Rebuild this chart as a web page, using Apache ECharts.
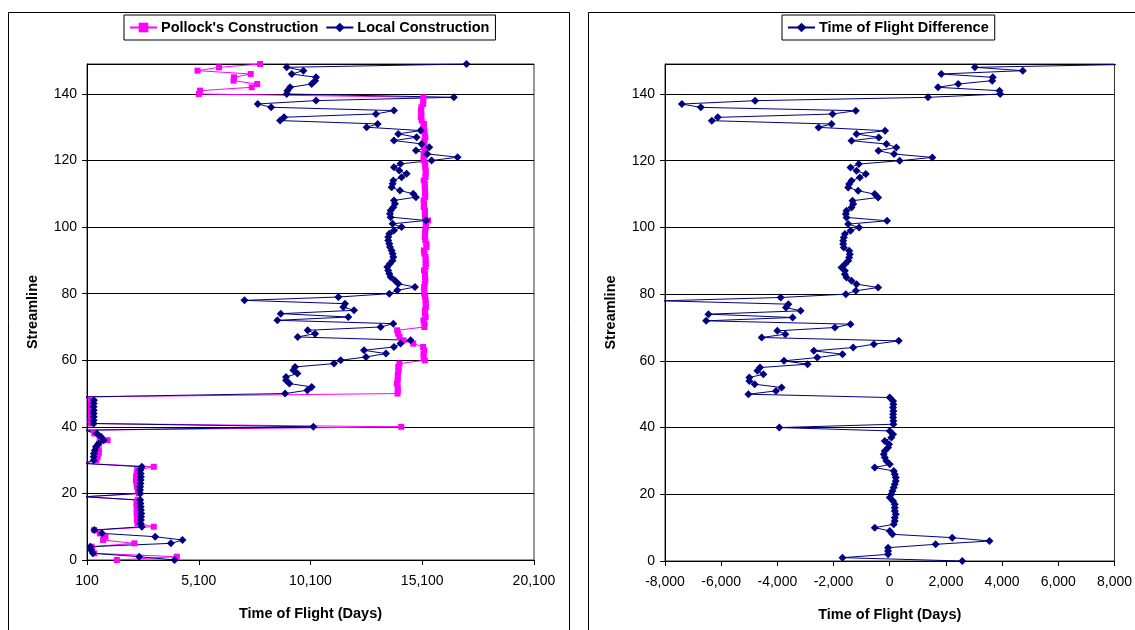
<!DOCTYPE html>
<html lang="en">
<head>
<meta charset="UTF-8">
<title>Time of Flight</title>
<script src="https://cdn.jsdelivr.net/npm/echarts@6/dist/echarts.min.js"></script>
<style>
    html, body { margin: 0; background: #fff; }
    #main { width: 1135px; height: 630px; }
</style>
</head>
<body>
<div id="main"></div>
<script>
// time of flight (days) per streamline, index = streamline number (0..149)
var pollock = [
    1435, 4118, 426, 336, 306, 2218, 822, 926, 674, 426,
    3089, 2358, 2332, 2342, 2317, 2332, 2322, 2312, 2362, 0,
    2421, 2375, 2338, 2312, 2287, 2297, 2322, 2348, 3089, 0,
    518, 578, 623, 628, 559, 644, 1022, 665, 427, 0,
    14160, 270, 266, 282, 278, 270, 278, 270, 292, 0,
    13994, 14009, 14002, 13963, 14003, 14003, 14012, 14046, 14027, 14076,
    15215, 15163, 15157, 15193, 15136, 14699, 14258, 14086, 14021, 13977,
    15192, 15201, 15155, 15250, 15221, 15219, 15263, 15255, 15250, 15229,
    15188, 15191, 15186, 15211, 15240, 15224, 15223, 15178, 15253, 15253,
    15254, 15248, 15195, 15173, 15289, 15283, 15238, 15214, 15223, 15231,
    15265, 15254, 15359, 15224, 15218, 15224, 15166, 15180, 15160, 15231,
    15231, 15227, 15209, 15218, 15166, 15242, 15252, 15256, 15231, 15232,
    15162, 15164, 15169, 15220, 15176, 15188, 15196, 15238, 15211, 15191,
    15146, 15176, 15073, 15038, 15065, 15042, 15062, 15141, 15143, 15153,
    5106, 5159, 7469, 7715, 6656, 6678, 7425, 5045, 6006, 7845
];
var local = [
    4016, 2437, 367, 277, 247, 3852, 4374, 3152, 769, 426,
    2556, 2500, 2510, 2520, 2530, 2510, 2500, 2490, 2480, 0,
    2480, 2470, 2480, 2490, 2500, 2510, 2500, 2490, 2556, 0,
    400, 400, 410, 450, 500, 620, 844, 724, 545, 0,
    10229, 400, 396, 400, 396, 400, 396, 400, 410, 0,
    8962, 9960, 10154, 9156, 9007, 9007, 9513, 9334, 9409, 11152,
    11450, 12582, 13476, 12493, 13834, 14131, 14578, 9528, 10303, 9975,
    13238, 13804, 8619, 11793, 8768, 12046, 11569, 11644, 7145, 11346,
    13625, 13983, 14772, 14027, 13878, 13685, 13625, 13580, 13536, 13655,
    13774, 13804, 13774, 13729, 13655, 13625, 13580, 13580, 13625, 13834,
    14176, 13774, 15264, 13685, 13655, 13685, 13804, 13878, 13834, 14817,
    14698, 14102, 13729, 13774, 13804, 14176, 14400, 14072, 13834, 14131,
    15517, 16679, 15323, 14817, 15413, 15070, 13834, 14847, 14027, 15025,
    12612, 13104, 8739, 8917, 13029, 13834, 8337, 7741, 10348, 16515,
    9037, 9066, 9186, 10154, 10303, 10348, 9260, 9781, 9037, 17081
];
var difference = [
    2581, -1681, -59, -59, -59, 1634, 3552, 2226, 95, 0,
    -533, 142, 178, 178, 213, 178, 178, 178, 118, 0,
    59, 95, 142, 178, 213, 213, 178, 142, -533, 0,
    -118, -178, -213, -178, -59, -24, -178, 59, 118, 0,
    -3931, 130, 130, 118, 118, 130, 118, 130, 118, 0,
    -5032, -4049, -3848, -4807, -4996, -4996, -4499, -4712, -4618, -2924,
    -3765, -2581, -1681, -2700, -1302, -568, 320, -4558, -3718, -4002,
    -1954, -1397, -6536, -3457, -6453, -3173, -3694, -3611, -8105, -3883,
    -1563, -1208, -414, -1184, -1362, -1539, -1598, -1598, -1717, -1598,
    -1480, -1444, -1421, -1444, -1634, -1658, -1658, -1634, -1598, -1397,
    -1089, -1480, -95, -1539, -1563, -1539, -1362, -1302, -1326, -414,
    -533, -1125, -1480, -1444, -1362, -1066, -852, -1184, -1397, -1101,
    355, 1515, 154, -403, 237, -118, -1362, -391, -1184, -166,
    -2534, -2072, -6334, -6121, -2036, -1208, -6725, -7400, -4795, 1362,
    3931, 3907, 1717, 2439, 3647, 3670, 1835, 4736, 3031, 9236
];
var leftRange = [100, 20100];
var rightRange = [-8000, 8000];
var streamRange = [0, 149];

// [x, streamline] pairs
function pairs(arr) {
    return arr.map(function (v, i) { return [v, i]; });
}

var FONT = 'Liberation Sans, Arial, sans-serif';
var NAVY = '#000080';
var PINK = '#ff00ff';

function xAxisFor(gridIndex, range, step) {
    return {
        type: 'value',
        gridIndex: gridIndex,
        min: range[0],
        max: range[1],
        interval: step,
        name: 'Time of Flight (Days)',
        nameLocation: 'middle',
        nameGap: 46,
        nameTextStyle: { fontFamily: FONT, fontSize: 14.5, fontWeight: 'bold', color: '#000' },
        axisLine: { onZero: false, lineStyle: { color: '#000' } },
        axisTick: { length: 5, lineStyle: { color: '#000' } },
        axisLabel: {
            margin: 14, fontFamily: FONT, fontSize: 14, color: '#000',
            formatter: function (v) { return v.toLocaleString('en-US'); }
        },
        splitLine: { show: false }
    };
}

function yAxisFor(gridIndex) {
    return {
        type: 'value',
        gridIndex: gridIndex,
        min: streamRange[0],
        max: streamRange[1],
        interval: 20,
        name: 'Streamline',
        nameLocation: 'middle',
        nameGap: 47,
        nameTextStyle: { fontFamily: FONT, fontSize: 14.5, fontWeight: 'bold', color: '#000' },
        axisLine: { onZero: false, lineStyle: { color: '#000' } },
        axisTick: { length: 5, lineStyle: { color: '#000' } },
        axisLabel: { margin: 10, fontFamily: FONT, fontSize: 14, color: '#000', showMaxLabel: false },
        splitLine: { show: true, lineStyle: { color: '#000', width: 1 } }
    };
}

function lineSeries(name, arr, color, symbol, size, idx) {
    return {
        name: name,
        type: 'line',
        xAxisIndex: idx,
        yAxisIndex: idx,
        data: pairs(arr),
        symbol: symbol,
        symbolSize: size,
        showAllSymbol: true,
        clip: true,
        color: color,
        lineStyle: { color: color, width: 1 },
        itemStyle: { color: color },
        emphasis: { disabled: true }
    };
}

var legendBase = {
    top: 15,
    orient: 'horizontal',
    borderColor: '#000',
    borderWidth: 1,
    padding: [5, 6, 5, 5],
    itemWidth: 27,
    itemHeight: 12,
    itemGap: 7,
    textStyle: { fontFamily: FONT, fontSize: 14.5, fontWeight: 'bold', color: '#000', padding: [0, 0, 0, -1] }
};

var myChart = echarts.init(document.getElementById('main'), null, { renderer: 'canvas' });

var option = {
    backgroundColor: '#fff',
    animation: false,
    grid: [
        { left: 87, top: 64, width: 447, height: 496, show: true, borderColor: '#333', borderWidth: 1, backgroundColor: '#fff' },
        { left: 665, top: 64, width: 450, height: 497, show: true, borderColor: '#333', borderWidth: 1, backgroundColor: '#fff' }
    ],
    legend: [
        Object.assign({}, legendBase, { left: 124, data: ["Pollock's Construction", 'Local Construction'] }),
        Object.assign({}, legendBase, { left: 782, data: ['Time of Flight Difference'] })
    ],
    graphic: [
        { type: 'rect', shape: { x: 8.5, y: 12.5, width: 561, height: 640 }, style: { fill: 'none', stroke: '#000', lineWidth: 1 }, silent: true, z: -1 },
        { type: 'rect', shape: { x: 588.5, y: 12.5, width: 600, height: 640 }, style: { fill: 'none', stroke: '#000', lineWidth: 1 }, silent: true, z: -1 }
    ],
    xAxis: [
        xAxisFor(0, leftRange, 5000),
        xAxisFor(1, rightRange, 2000)
    ],
    yAxis: [
        yAxisFor(0),
        yAxisFor(1)
    ],
    series: [
        lineSeries("Pollock's Construction", pollock, PINK, 'rect', 6, 0),
        lineSeries('Local Construction', local, NAVY, 'diamond', 8, 0),
        lineSeries('Time of Flight Difference', difference, NAVY, 'diamond', 8, 1)
    ]
};

myChart.setOption(option);
</script>
</body>
</html>
